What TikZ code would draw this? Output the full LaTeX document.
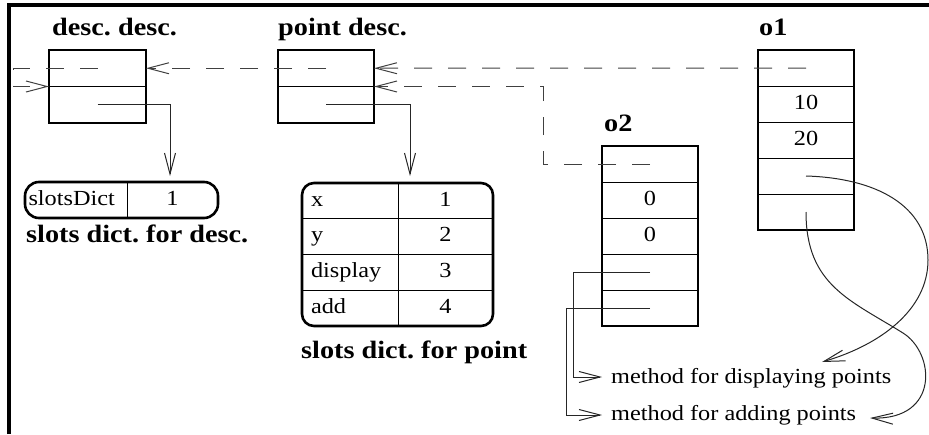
\documentclass[tikz,border=0pt]{standalone}
\usepackage{fontspec}
\setmainfont{Liberation Serif}[FakeStretch=1.13]
\newfontfamily\figboldfam{Liberation Serif Bold}[FakeStretch=1.13]
\usetikzlibrary{arrows.meta}

\newcommand\figcell{\fontsize{21.5}{24}\selectfont\frenchspacing}
\newcommand\figtitle{\figboldfam\fontsize{25}{28}\selectfont\frenchspacing}

\tikzset{
  frameline/.style={line width=3.5pt},
  cell/.style={draw, line width=1pt, minimum width=96pt, minimum height=36pt,
    inner sep=0pt, outer sep=0pt, anchor=north west, font=\figcell,
    text height=15pt, text depth=4.5pt},
  keycell/.style={cell, draw=none, align=left},
  valcell/.style={cell, draw=none},
  outline/.style={line width=2.6pt},
  divider/.style={line width=1pt},
  ptr/.style={line width=1pt, draw=black!85, -{Straight Barb[length=21pt,width=11pt]}},
  dptr/.style={ptr, draw=black!75, dash pattern=on 18pt off 16pt},
  title/.style={font=\figtitle, anchor=base west, inner sep=0pt},
  label/.style={font=\figcell, anchor=base west, inner sep=0pt}
}

\begin{document}
\begin{tikzpicture}[x=1pt, y=-1pt]
\useasboundingbox (0,0) rectangle (929,434);

% frame
\draw[frameline] (9,434) -- (9,5) -- (929,5);

% descriptor of descriptors
\node[cell, minimum width=97pt, minimum height=36.5pt] (dd1) at (49,50) {};
\node[cell, minimum width=97pt, minimum height=36.5pt] (dd2) at (49,86.5) {};
\draw[outline] (dd1.north west) rectangle (dd2.south east);
\node[title] (tdd) at (52,35) {desc. desc.};

% point descriptor
\node[cell, minimum height=36.5pt] (pd1) at (278,50) {};
\node[cell, minimum height=36.5pt] (pd2) at (278,86.5) {};
\draw[outline] (pd1.north west) rectangle (pd2.south east);
\node[title] (tpd) at (278,35) {point desc.};

% object o1
\node[cell] (o1a) at (758,50) {};
\node[cell] (o1b) at (758,86) {10};
\node[cell] (o1c) at (758,122) {20};
\node[cell] (o1d) at (758,158) {};
\node[cell] (o1e) at (758,194) {};
\draw[outline] (o1a.north west) rectangle (o1e.south east);
\node[title] (to1) at (759,35) {o1};

% object o2
\node[cell] (o2a) at (602,146) {};
\node[cell] (o2b) at (602,182) {0};
\node[cell] (o2c) at (602,218) {0};
\node[cell] (o2d) at (602,254) {};
\node[cell] (o2e) at (602,290) {};
\draw[outline] (o2a.north west) rectangle (o2e.south east);
\node[title] (to2) at (604,131) {o2};

% slots dictionary of the descriptor
\node[keycell, minimum width=102pt, text width=95pt, inner xsep=3.5pt] (sdk) at (25,182) {slotsDict};
\node[valcell, minimum width=91pt] (sdv) at (127,182) {1};
\draw[outline, rounded corners=14pt] (sdk.north west) rectangle (sdv.south east);
\draw[divider] (sdk.north east) -- (sdk.south east);
\node[title] (tsd) at (26,242) {slots dict. for desc.};

% slots dictionary of points
\node[keycell, minimum height=35.75pt, text width=78pt, inner xsep=9pt] (spk1) at (302,183) {x};
\node[valcell, minimum height=35.75pt, minimum width=95pt] (spv1) at (398,183) {1};
\node[keycell, minimum height=35.75pt, text width=78pt, inner xsep=9pt] (spk2) at (302,218.75) {y};
\node[valcell, minimum height=35.75pt, minimum width=95pt] (spv2) at (398,218.75) {2};
\node[keycell, minimum height=35.75pt, text width=78pt, inner xsep=9pt] (spk3) at (302,254.5) {display};
\node[valcell, minimum height=35.75pt, minimum width=95pt] (spv3) at (398,254.5) {3};
\node[keycell, minimum height=35.75pt, text width=78pt, inner xsep=9pt] (spk4) at (302,290.25) {add};
\node[valcell, minimum height=35.75pt, minimum width=95pt] (spv4) at (398,290.25) {4};
\draw[outline, rounded corners=12pt] (spk1.north west) rectangle (spv4.south east);
\draw[divider] (spk1.north east) -- (spk4.south east);
\draw[divider] (spk1.south west) -- (spv1.south east);
\draw[divider] (spk2.south west) -- (spv2.south east);
\draw[divider] (spk3.south west) -- (spv3.south east);
\node[title] (tsp) at (301,358) {slots dict. for point};

% methods
\node[label] (mdisp) at (611,383) {method for displaying points};
\node[label] (madd) at (611,420) {method for adding points};

% bend points and free ends
\coordinate (ddloop) at (13,86.5);
\coordinate (o2bend) at (543,86.5);
\coordinate (sdin) at (170,182);
\coordinate (spin) at (410,183);
\coordinate (dispturn) at (573,377);
\coordinate (addturn) at (566,415);
\coordinate (disptip) at (822,362);
\coordinate (addtip) at (870,418);

% descriptor links
\draw[dptr] (dd1.center) -| (ddloop) -- (dd1.south west);
\draw[dptr] (pd1.center) -- (dd1.east);
\draw[dptr] (o1a.center) -- (pd1.east);
\draw[dptr] (o2a.center) -| (o2bend) -- (pd1.south east);

% slots dictionary links
\draw[ptr, shorten >=6pt] (dd2.center) -| (sdin);
\draw[ptr, shorten >=7pt] (pd2.center) -| (spin);

% method links
\draw[ptr, shorten >=9pt] (o2d.center) -| (dispturn) -- (dispturn -| mdisp.west);
\draw[ptr, shorten >=9pt] (o2e.center) -| (addturn) -- (addturn -| madd.west);
\draw[ptr] (o1d.center) .. controls (875,178) and (928,205) .. (928,260)
  .. controls (928,310) and (880,345) .. (disptip);
\draw[ptr] (o1e.center) .. controls (806,285) and (850,300) .. (903,333)
  .. controls (935,353) and (940,420) .. (addtip);
\end{tikzpicture}
\end{document}
